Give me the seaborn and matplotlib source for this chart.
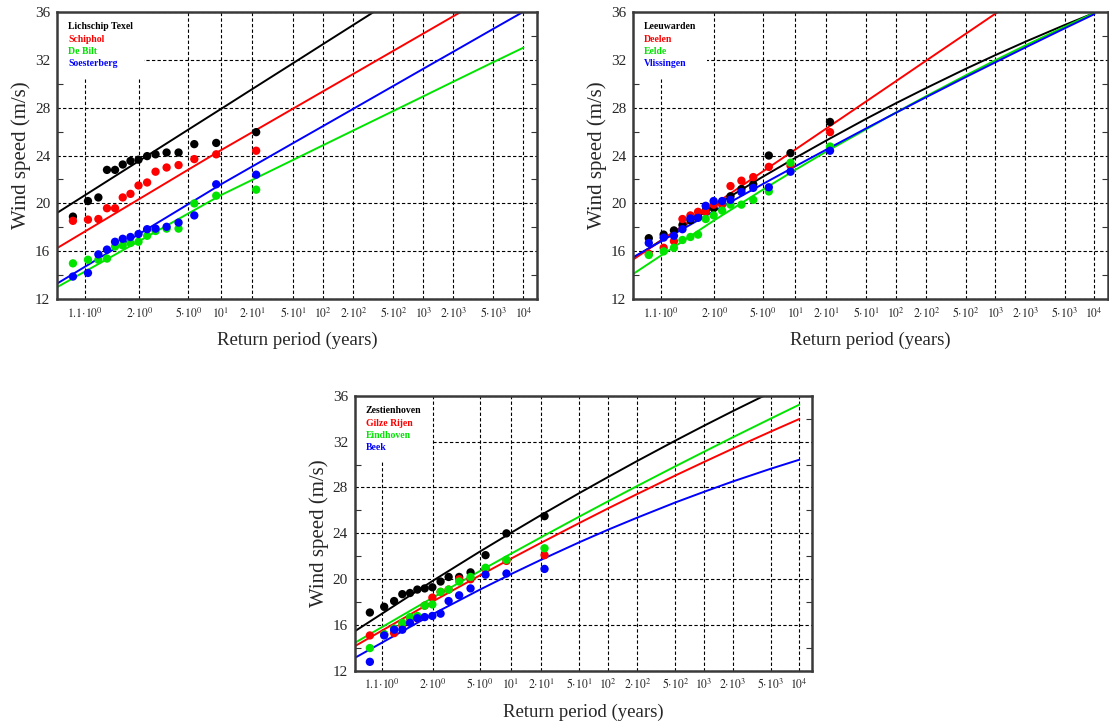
import numpy as np
import pandas as pd
import matplotlib
matplotlib.use("Agg")
import matplotlib.pyplot as plt
import seaborn as sns
from matplotlib.ticker import FixedLocator, FixedFormatter, MultipleLocator, NullLocator
from matplotlib.lines import Line2D

# ---------------- data ----------------
# plotting positions (return period, years) shared by all stations
point_T = [1.043, 1.117, 1.204, 1.304, 1.425, 1.570, 1.749, 1.977, 2.278, 2.64, 3.24, 4.09, 5.64, 9.0, 21.8]
# return periods at which the fitted curves are given
line_T = [1.01, 2, 5, 10, 20, 50, 100, 200, 500, 1000, 2000, 5000, 10000]

tick_T = [1.1, 2, 5, 10, 20, 50, 100, 200, 500, 1000, 2000, 5000, 10000]
tick_labels = [r"$1.1{\cdot}10^{0}$", r"$2{\cdot}10^{0}$", r"$5{\cdot}10^{0}$", r"$10^{1}$",
               r"$2{\cdot}10^{1}$", r"$5{\cdot}10^{1}$", r"$10^{2}$", r"$2{\cdot}10^{2}$",
               r"$5{\cdot}10^{2}$", r"$10^{3}$", r"$2{\cdot}10^{3}$", r"$5{\cdot}10^{3}$", r"$10^{4}$"]

# panel 1
stations1 = ["Lichschip Texel", "Schiphol", "De Bilt", "Soesterberg"]
texel_pts = [18.9, 20.2, 20.5, 22.8, 22.8, 23.25, 23.55, 23.65, 23.95, 24.1, 24.25, 24.25, 24.95, 25.05, 25.95]
schiphol_pts = [18.55, 18.65, 18.7, 19.6, 19.6, 20.5, 20.8, 21.5, 21.75, 22.65, 23.0, 23.2, 23.7, 24.1, 24.4]
debilt_pts = [15.0, 15.3, 15.3, 15.4, 16.4, 16.5, 16.7, 16.8, 17.3, 17.7, 17.9, 17.9, 20.0, 20.65, 21.15]
soesterberg_pts = [13.9, 14.2, 15.75, 16.15, 16.8, 17.05, 17.2, 17.45, 17.85, 17.9, 18.05, 18.4, 19.0, 21.6, 22.4]
texel_fit = [19.2, 23.56, 26.17, 27.89, 29.55, 31.69, 33.3, 34.9, 37.01, 38.6, 40.2, 42.3, 43.9]
schiphol_fit = [16.26, 20.37, 22.83, 24.45, 25.95, 27.9, 29.36, 30.81, 32.73, 34.18, 35.63, 37.54, 39.0]
debilt_fit = [13.0, 16.86, 19.17, 20.7, 21.97, 23.62, 24.86, 26.09, 27.71, 28.94, 30.17, 31.79, 33.0]
soesterberg_fit = [13.3, 17.46, 19.95, 21.6, 23.09, 25.02, 26.46, 27.9, 29.8, 31.24, 32.67, 34.57, 36.0]

# panel 2
stations2 = ["Leeuwarden", "Deelen", "Eelde", "Vlissingen"]
leeuwarden_pts = [17.1, 17.4, 17.75, 18.2, 18.6, 18.9, 19.4, 19.6, 20.0, 20.6, 21.2, 21.6, 24.0, 24.2, 26.8]
deelen_pts = [15.8, 16.3, 16.85, 18.7, 19.0, 19.3, 19.3, 19.9, 19.9, 21.45, 21.9, 22.2, 23.05, 23.15, 25.95]
eelde_pts = [15.7, 16.0, 16.3, 16.95, 17.2, 17.4, 18.7, 19.0, 19.4, 19.9, 19.9, 20.3, 21.0, 23.4, 24.75]
vlissingen_pts = [16.7, 17.15, 17.3, 17.85, 18.75, 18.8, 19.8, 20.2, 20.2, 20.3, 20.95, 21.3, 21.35, 22.65, 24.4]
leeuwarden_fit = [15.4, 19.78, 22.24, 23.8, 25.25, 27.07, 28.38, 29.63, 31.23, 32.38, 33.49, 34.89, 35.9]
deelen_fit = [15.3, 19.92, 22.68, 24.5, 26.25, 28.52, 30.22, 31.92, 34.15, 35.84, 37.53, 39.76, 41.45]
eelde_fit = [14.1, 18.6, 21.16, 22.8, 24.33, 26.2, 27.6, 28.95, 30.68, 31.95, 33.18, 34.74, 35.9]
vlissingen_fit = [15.5, 19.37, 21.63, 23.1, 24.49, 26.27, 27.58, 28.87, 30.54, 31.78, 33.01, 34.61, 35.8]

# panel 3
stations3 = ["Zestienhoven", "Gilze Rijen", "Eindhoven", "Beek"]
zestienhoven_pts = [17.1, 17.6, 18.1, 18.7, 18.8, 19.1, 19.2, 19.3, 19.8, 20.2, 20.2, 20.6, 22.1, 24.0, 25.5]
gilze_pts = [15.1, 15.2, 15.3, 16.0, 16.6, 16.6, 17.7, 18.4, 18.9, 19.1, 20.0, 20.0, 20.9, 21.6, 22.1]
eindhoven_pts = [14.0, 15.2, 15.7, 16.2, 16.7, 16.8, 17.7, 17.8, 18.9, 19.1, 19.8, 20.2, 21.0, 21.7, 22.7]
beek_pts = [12.8, 15.1, 15.6, 15.6, 16.2, 16.6, 16.7, 16.8, 17.0, 18.1, 18.6, 19.2, 20.4, 20.5, 20.9]
zestienhoven_fit = [15.45, 19.88, 22.42, 24.05, 25.59, 27.52, 28.93, 30.31, 32.08, 33.38, 34.65, 36.28, 37.37]
gilze_fit = [14.15, 18.08, 20.34, 21.8, 23.17, 24.91, 26.19, 27.43, 29.04, 30.22, 31.38, 32.87, 33.97]
eindhoven_fit = [14.44, 18.41, 20.72, 22.23, 23.65, 25.47, 26.81, 28.13, 29.84, 31.11, 32.37, 34.0, 35.22]
beek_fit = [13.13, 16.97, 19.1, 20.45, 21.69, 23.23, 24.33, 25.37, 26.69, 27.62, 28.52, 29.63, 30.42]

colors = ["#000000", "#ff0000", "#00e400", "#0000ff"]

panels = [
    (stations1, [texel_pts, schiphol_pts, debilt_pts, soesterberg_pts],
     [texel_fit, schiphol_fit, debilt_fit, soesterberg_fit]),
    (stations2, [leeuwarden_pts, deelen_pts, eelde_pts, vlissingen_pts],
     [leeuwarden_fit, deelen_fit, eelde_fit, vlissingen_fit]),
    (stations3, [zestienhoven_pts, gilze_pts, eindhoven_pts, beek_pts],
     [zestienhoven_fit, gilze_fit, eindhoven_fit, beek_fit]),
]

# ---------------- style ----------------
sns.set_style("white")
plt.rcParams["font.family"] = ["Liberation Serif", "DejaVu Serif"]
plt.rcParams["mathtext.fontset"] = "stix"


def gumbel_fwd(T):
    T = np.clip(np.asarray(T, dtype=float), 1.000001, None)
    return -np.log(-np.log(1.0 - 1.0 / T))


def gumbel_inv(y):
    y = np.asarray(y, dtype=float)
    return 1.0 / (1.0 - np.exp(-np.exp(-y)))


fig = plt.figure(figsize=(11.09, 7.24), dpi=100)
rects = [
    [0.0517, 0.5866, 0.4323, 0.3972],
    [0.5711, 0.5866, 0.4276, 0.3972],
    [0.3201, 0.0732, 0.4121, 0.3802],
]

for rect, (stations, pts, fits) in zip(rects, panels):
    ax = fig.add_axes(rect)
    pal = dict(zip(stations, colors))

    dfl = pd.concat([pd.DataFrame({"T": line_T, "speed": f, "station": s})
                     for s, f in zip(stations, fits)], ignore_index=True)
    dfp = pd.concat([pd.DataFrame({"T": point_T, "speed": p, "station": s})
                     for s, p in zip(stations, pts)], ignore_index=True)

    sns.lineplot(data=dfl, x="T", y="speed", hue="station", hue_order=stations,
                 palette=pal, sort=False, estimator=None, legend=False,
                 linewidth=1.4, ax=ax, zorder=2)
    sns.scatterplot(data=dfp, x="T", y="speed", hue="station", hue_order=stations,
                    palette=pal, s=36, linewidth=0, legend=False, ax=ax, zorder=3)

    ax.set_xscale("function", functions=(gumbel_fwd, gumbel_inv))
    ax.set_xlim(1.0105, 13600)
    ax.set_ylim(12, 36)

    ax.xaxis.set_major_locator(FixedLocator(tick_T))
    ax.xaxis.set_major_formatter(FixedFormatter(tick_labels))
    ax.xaxis.set_minor_locator(NullLocator())
    ax.yaxis.set_major_locator(MultipleLocator(4))
    ax.yaxis.set_minor_locator(MultipleLocator(2))

    ax.tick_params(axis="x", which="major", length=0, labelsize=8.5, pad=5)
    ax.tick_params(axis="y", which="major", length=0, labelsize=11, pad=5)
    ax.tick_params(axis="y", which="minor", direction="in", length=4, width=0.8,
                   left=True, right=True, color="#333333")

    ax.grid(True, which="major", color="black", linestyle=(0, (3, 2)), linewidth=0.8)
    ax.set_axisbelow(True)
    for sp in ax.spines.values():
        sp.set_color("#3a3a3a")
        sp.set_linewidth(1.8)

    ax.set_xlabel("Return period (years)", fontsize=13.5, labelpad=8)
    ax.set_ylabel("Wind speed (m/s)", fontsize=15, labelpad=3)

    handles = [Line2D([], [], color=c) for c in colors]
    leg = ax.legend(handles, stations, loc="upper left", bbox_to_anchor=(0, 1),
                    borderaxespad=0, handlelength=0, handletextpad=0,
                    labelcolor=colors, frameon=True, fancybox=False, framealpha=1,
                    edgecolor="none", facecolor="white", borderpad=1.1,
                    labelspacing=0.32,
                    prop={"family": "Liberation Serif", "weight": "bold", "size": 7})
    for h in leg.legend_handles:
        h.set_visible(False)
    leg.set_zorder(2.2)

fig.savefig("out.png", dpi=100, facecolor="white")
